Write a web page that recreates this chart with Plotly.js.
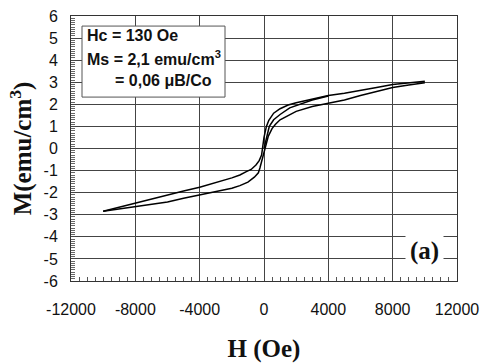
<!DOCTYPE html>
<html>
<head>
<meta charset="utf-8">
<script src="https://cdn.plot.ly/plotly-3.0.1.min.js"></script>
<style>html,body{margin:0;padding:0;background:#fff;}#chart{width:482px;height:363px;}</style>
</head>
<body>
<div id="chart"></div>
<script>
// Descending branch (field swept from +10000 to -10000 Oe)
const hDown = [10000, 9000, 8000, 7000, 6000, 5000, 4000, 3000, 2000, 1500, 1000, 600, 300, 150, 0, -150, -300, -500, -800, -1100, -1500, -2000, -3000, -4000, -5000, -6000, -7000, -8000, -9000, -10000];
const mDown = [3.05, 2.97, 2.9, 2.76, 2.62, 2.5, 2.4, 2.25, 2.07, 1.97, 1.8, 1.6, 1.28, 1.0, 0.5, -0.3, -0.55, -0.75, -0.95, -1.05, -1.2, -1.33, -1.55, -1.75, -1.92, -2.1, -2.28, -2.46, -2.65, -2.84];
// Ascending branch (field swept from -10000 to +10000 Oe)
const hUp = [-10000, -9000, -8000, -7000, -6000, -5000, -4000, -3000, -2000, -1500, -1000, -600, -350, -250, -100, 0, 130, 270, 500, 700, 1000, 1600, 2000, 3000, 4000, 5000, 6000, 7000, 8000, 9000, 10000];
const mUp = [-2.84, -2.74, -2.64, -2.53, -2.42, -2.25, -2.1, -1.97, -1.8, -1.68, -1.52, -1.3, -1.1, -0.87, -0.45, -0.1, 0.2, 0.56, 0.9, 1.09, 1.3, 1.55, 1.68, 1.9, 2.05, 2.2, 2.4, 2.57, 2.76, 2.88, 2.98];
// Initial magnetization curve
const hInit = [0, 100, 200, 330, 600, 1000, 1600, 2200, 3000, 4000];
const mInit = [0, 0.35, 0.65, 1.0, 1.3, 1.54, 1.84, 2.0, 2.2, 2.38];

const xTicks = [-12000, -8000, -4000, 0, 4000, 8000, 12000];
const yTicks = [-6, -5, -4, -3, -2, -1, 0, 1, 2, 3, 4, 5, 6];

const infoLines = ["<b>Hc = 130 Oe</b>", "<b>Ms = 2,1 emu/cm<sup>3</sup></b>", "<b>= 0,06 \u03bcB/Co</b>"];
const panelLabel = "<b>(a)</b>";

const lineStyle = {color: '#000', width: 1.5};
const traces = [
  {x: hDown, y: mDown, mode: 'lines', line: lineStyle, hoverinfo: 'skip'},
  {x: hUp, y: mUp, mode: 'lines', line: lineStyle, hoverinfo: 'skip'},
  {x: hInit, y: mInit, mode: 'lines', line: lineStyle, hoverinfo: 'skip'}
];

const tickFont = {family: 'Liberation Sans, Arial, sans-serif', size: 16, color: '#111'};
const titleFont = {family: 'Liberation Serif, Times New Roman, serif', size: 25, color: '#111'};
const boxFont = {family: 'Liberation Sans, Arial, sans-serif', size: 16, color: '#111'};

const layout = {
  width: 482, height: 363,
  margin: {l: 71, r: 25, t: 16, b: 82},
  paper_bgcolor: '#fff', plot_bgcolor: '#fff',
  showlegend: false,
  xaxis: {
    range: [-12000, 12000], tickvals: xTicks, ticktext: xTicks.map(String),
    tickfont: tickFont, ticks: 'inside', ticklen: 4, tickcolor: '#444',
    showgrid: true, gridcolor: '#444', gridwidth: 1, zeroline: false,
    showline: true, linecolor: '#333', linewidth: 1, mirror: true,
    minor: {dtick: 500, ticks: 'inside', ticklen: 4, tickcolor: '#555', showgrid: false},
    ticklabelstandoff: 14,
    title: {text: '<b>H (Oe)</b>', font: titleFont, standoff: 24},
    automargin: false, fixedrange: true
  },
  yaxis: {
    range: [-6, 6], tickvals: yTicks, ticktext: yTicks.map(String),
    tickfont: tickFont, ticks: 'inside', ticklen: 5, tickcolor: '#444',
    showgrid: true, gridcolor: '#444', gridwidth: 1, zeroline: false,
    showline: true, linecolor: '#333', linewidth: 1, mirror: true,
    minor: {dtick: 0.1, ticks: 'inside', ticklen: 4, tickcolor: '#666', showgrid: false},
    ticklabelstandoff: 9,
    title: {text: '<b>M(emu/cm<sup>3</sup>)</b>', font: titleFont, standoff: 4},
    automargin: false, fixedrange: true
  },
  shapes: [
    {type: 'rect', xref: 'paper', yref: 'paper', x0: 0.0285, x1: 0.399, y0: 0.694, y1: 0.962,
     fillcolor: '#fff', line: {color: '#555', width: 1}, layer: 'above'}
  ],
  annotations: [
    {xref: 'paper', yref: 'paper', x: 0.036, y: 0.925, xanchor: 'left', yanchor: 'middle', text: infoLines[0], showarrow: false, font: boxFont},
    {xref: 'paper', yref: 'paper', x: 0.036, y: 0.84, xanchor: 'left', yanchor: 'middle', text: infoLines[1], showarrow: false, font: boxFont},
    {xref: 'paper', yref: 'paper', x: 0.108, y: 0.755, xanchor: 'left', yanchor: 'middle', text: infoLines[2], showarrow: false, font: boxFont},
    {xref: 'paper', yref: 'paper', x: 0.917, y: 0.113, xanchor: 'center', yanchor: 'middle', text: panelLabel, showarrow: false, bgcolor: '#fff', borderpad: 4, font: titleFont}
  ]
};

Plotly.newPlot('chart', traces, layout, {staticPlot: true, displayModeBar: false});
</script>
</body>
</html>
